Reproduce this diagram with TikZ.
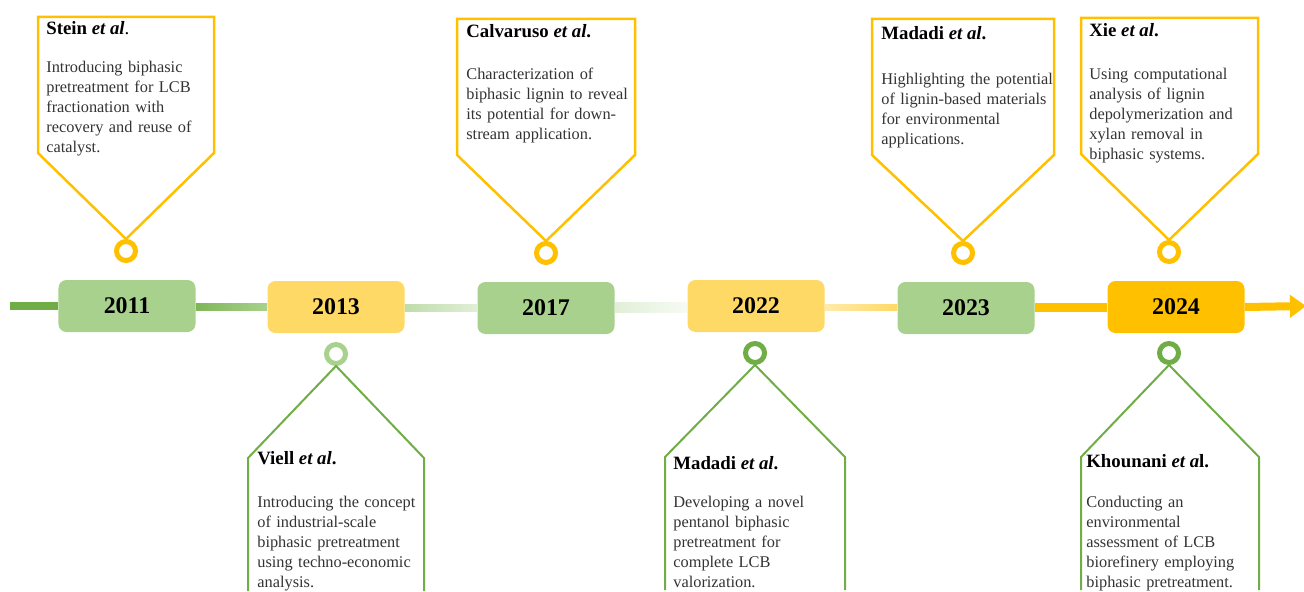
\documentclass[tikz,border=0pt]{standalone}
\usepackage{fontspec}
\setmainfont{Liberation Serif}
\usetikzlibrary{arrows.meta, positioning, calc}
\definecolor{gold}{HTML}{FFC000}
\definecolor{leaf}{HTML}{70AD47}
\definecolor{leaflt}{HTML}{A9D18E}
\definecolor{sand}{HTML}{FFD966}

\begin{document}
\begin{tikzpicture}[x=0.2mm, y=0.2mm,
    yrbox/.style={rounded corners=1.6mm, minimum width=27.4mm, minimum height=10.4mm, inner sep=0pt, font=\fontsize{13.6}{15}\selectfont\bfseries},
    ring/.style={circle, draw, line width=1mm, minimum size=3.8mm, inner sep=0pt},
    head/.style={anchor=base west, inner sep=0pt, font=\fontsize{10.7}{13}\selectfont\bfseries},
    blurb/.style={anchor=north west, inner sep=0pt, text width=40mm, align=left, text=black!80, font=\fontsize{9.3}{11.4}\selectfont},
    upbox/.style={draw=gold, line width=0.5mm},
    dnbox/.style={draw=leaf, line width=0.4mm}]
    \useasboundingbox (0,-285) rectangle (1304,306);
    \coordinate (start) at (10,0);
    \coordinate (stop) at (1306,0);
    \node[yrbox, fill=leaflt] (y2011) at (127,0) {2011};
    \node[yrbox, fill=sand] (y2013) at (336,-1) {2013};
    \node[yrbox, fill=leaflt] (y2017) at (546,-2) {2017};
    \node[yrbox, fill=sand] (y2022) at (756,0) {2022};
    \node[yrbox, fill=leaflt] (y2023) at (966,-2) {2023};
    \node[yrbox, fill=gold] (y2024) at (1176,-1) {2024};
    % timeline
    \fill[leaf] ($(start)+(0,-4)$) rectangle ($(y2011.west)+(0,4)$);
    \fill[left color=leaf!75!leaflt, right color=leaflt] ($(y2011.east)+(0,-4)$) rectangle ($(y2013.west)+(0,4)$);
    \fill[left color=leaflt!75!white, right color=leaflt!35!white] ($(y2013.east)+(0,-4)$) rectangle ($(y2017.west)+(0,4)$);
    \fill[left color=leaflt!35!white, right color=leaflt!10!white] ($(y2017.east)+(0,-4)$) rectangle ($(y2022.west)+(0,4)$);
    \fill[left color=sand!55!white, right color=sand] ($(y2022.east)+(0,-4)$) rectangle ($(y2023.west)+(0,4)$);
    \fill[gold] ($(y2023.east)+(0,-4)$) rectangle ($(y2024.west)+(0,4)$);
    \draw[gold, line width=1.6mm, -{Triangle[length=3.2mm, width=4.4mm]}] (y2024.east) -- (stop);
    % upper callouts
    \node[ring, draw=gold] (r1) at (126,55) {};
    \node[ring, draw=gold] (r3) at (546,53) {};
    \node[ring, draw=gold] (r5) at (963,53) {};
    \node[ring, draw=gold] (r6) at (1169,54) {};
    \draw[upbox] (r1.north) -- ++(-88,86) -- ++(0,136) -- ++(176,0) -- ++(0,-136) -- cycle;
    \draw[upbox] (r3.north) -- ++(-89,86) -- ++(0,136) -- ++(178,0) -- ++(0,-136) -- cycle;
    \draw[upbox] (r5.north) -- ++(-91,86) -- ++(0,136) -- ++(182,0) -- ++(0,-136) -- cycle;
    \draw[upbox] (r6.north) -- ++(-88,86) -- ++(0,136) -- ++(177,0) -- ++(0,-136) -- cycle;
    \node[head] (t1) at (46,271) {Stein \textit{et al}\textmd{.}};
    \node[blurb] (b1) at (46,245) {Introducing biphasic\\ pretreatment for LCB\\ fractionation with\\ recovery and reuse of\\ catalyst.};
    \node[head] (t3) at (466,268) {Calvaruso \textit{et al}.};
    \node[blurb] (b3) at (466,238) {Characterization of\\ biphasic lignin to reveal\\ its potential for down-\\ stream application.};
    \node[head] (t5) at (881,266) {Madadi \textit{et al}.};
    \node[blurb] (b5) at (881,233) {Highlighting the potential\\ of lignin-based materials\\ for environmental\\ applications.};
    \node[head] (t6) at (1089,269) {Xie \textit{et al}.};
    \node[blurb] (b6) at (1089,238) {Using computational\\ analysis of lignin\\ depolymerization and\\ xylan removal in\\ biphasic systems.};
    % lower callouts
    \node[ring, draw=leaflt] (r2) at (336,-48) {};
    \node[ring, draw=leaf] (r4) at (755,-47) {};
    \node[ring, draw=leaf] (r7) at (1169,-47) {};
    \draw[dnbox] ($(r2.south)+(-88,-225)$) -- ++(0,133) -- (r2.south) -- ++(88,-92) -- ++(0,-133);
    \draw[dnbox] ($(r4.south)+(-90,-225)$) -- ++(0,133) -- (r4.south) -- ++(90,-92) -- ++(0,-133);
    \draw[dnbox] ($(r7.south)+(-88,-225)$) -- ++(0,133) -- (r7.south) -- ++(90,-92) -- ++(0,-133);
    \node[head] (t2) at (257,-158) {Viell \textit{et al}.};
    \node[blurb] (b2) at (257,-190) {Introducing the concept\\ of industrial-scale\\ biphasic pretreatment\\ using techno-economic\\ analysis.};
    \node[head] (t4) at (673,-163) {Madadi \textit{et al}.};
    \node[blurb] (b4) at (673,-190) {Developing a novel\\ pentanol biphasic\\ pretreatment for\\ complete LCB\\ valorization.};
    \node[head] (t7) at (1086,-161) {Khounani \textit{et a}l.};
    \node[blurb] (b7) at (1086,-190) {Conducting an\\ environmental\\ assessment of LCB\\ biorefinery employing\\ biphasic pretreatment.};
\end{tikzpicture}
\end{document}
